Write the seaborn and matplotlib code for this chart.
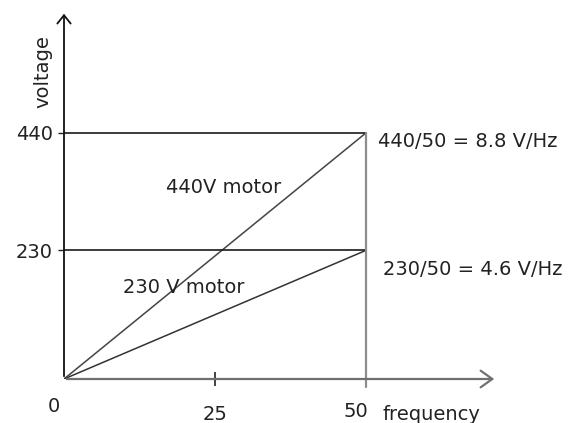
import pandas as pd
import matplotlib
matplotlib.use("Agg")
import matplotlib.pyplot as plt
import seaborn as sns

# 电机 V/f 曲线数据
freq = [0, 50]
v_440 = [0, 440]
v_230 = [0, 230]
y_ticks = [230, 440]
x_ticks = [25]

df = pd.DataFrame({
    'frequency': freq * 2,
    'voltage': v_440 + v_230,
    'motor': ['440V motor'] * 2 + ['230 V motor'] * 2,
})

sns.set_theme(style="white")
plt.rcParams['font.family'] = ['DejaVu Sans']

fig = plt.figure(figsize=(5.81, 4.23), dpi=100)
ax = fig.add_axes([64 / 581, 44 / 423, 433 / 581, 368 / 423])
ax.set_xlim(0, 71.7)
ax.set_ylim(0, 658)

# 两条电机直线
sns.lineplot(data=df, x='frequency', y='voltage', hue='motor',
             palette=['#444444', '#333333'], linewidth=1.1, legend=False, ax=ax)

# 水平和竖直参考线
ax.plot([0, 50], [v_440[1], v_440[1]], color='#1a1a1a', lw=1.2)
ax.plot([0, 50], [v_230[1], v_230[1]], color='#1a1a1a', lw=1.2)
ax.plot([50, 50], [-14, v_440[1]], color='#8c8c8c', lw=1.6, clip_on=False)

# 坐标轴箭头
for s in ax.spines.values():
    s.set_visible(False)
ax.annotate('', xy=(71.7, 0), xytext=(0, 0), annotation_clip=False,
            arrowprops=dict(arrowstyle='->,head_length=0.7,head_width=0.5', color='#707070', lw=1.6))
ax.annotate('', xy=(0, 658), xytext=(0, 0), annotation_clip=False,
            arrowprops=dict(arrowstyle='->,head_length=0.5,head_width=0.4', color='#111111', lw=1.3))

ax.set_yticks(y_ticks)
ax.set_yticklabels([str(v) for v in y_ticks])
ax.set_xticks(x_ticks)
ax.set_xticklabels([str(v) for v in x_ticks])
ax.tick_params(axis='y', direction='out', length=4.3, width=1, pad=3.6,
               labelsize=14, colors='#222222', left=True)
ax.tick_params(axis='x', direction='inout', length=9.4, width=1.2, pad=14,
               labelsize=14, colors='#222222', bottom=True)
ax.set_xlabel('')
ax.set_ylabel('')

txt = dict(fontsize=14, color='#222222')
ax.text(26.4, 343, '440V motor', ha='center', va='center', **txt)
ax.text(19.8, 163, '230 V motor', ha='center', va='center', **txt)
ax.text(52.0, 424, '440/50 = 8.8 V/Hz', ha='left', va='center', **txt)
ax.text(52.8, 195, '230/50 = 4.6 V/Hz', ha='left', va='center', **txt)
ax.text(-1.66, -50, '0', ha='center', va='center', clip_on=False, **txt)
ax.text(48.3, -59, '50', ha='center', va='center', clip_on=False, **txt)
ax.text(52.8, -64, 'frequency', ha='left', va='center', clip_on=False, **txt)
ax.text(-3.5, 549, 'voltage', ha='center', va='center', rotation=90, clip_on=False, **txt)

fig.savefig('out.png', dpi=100)
